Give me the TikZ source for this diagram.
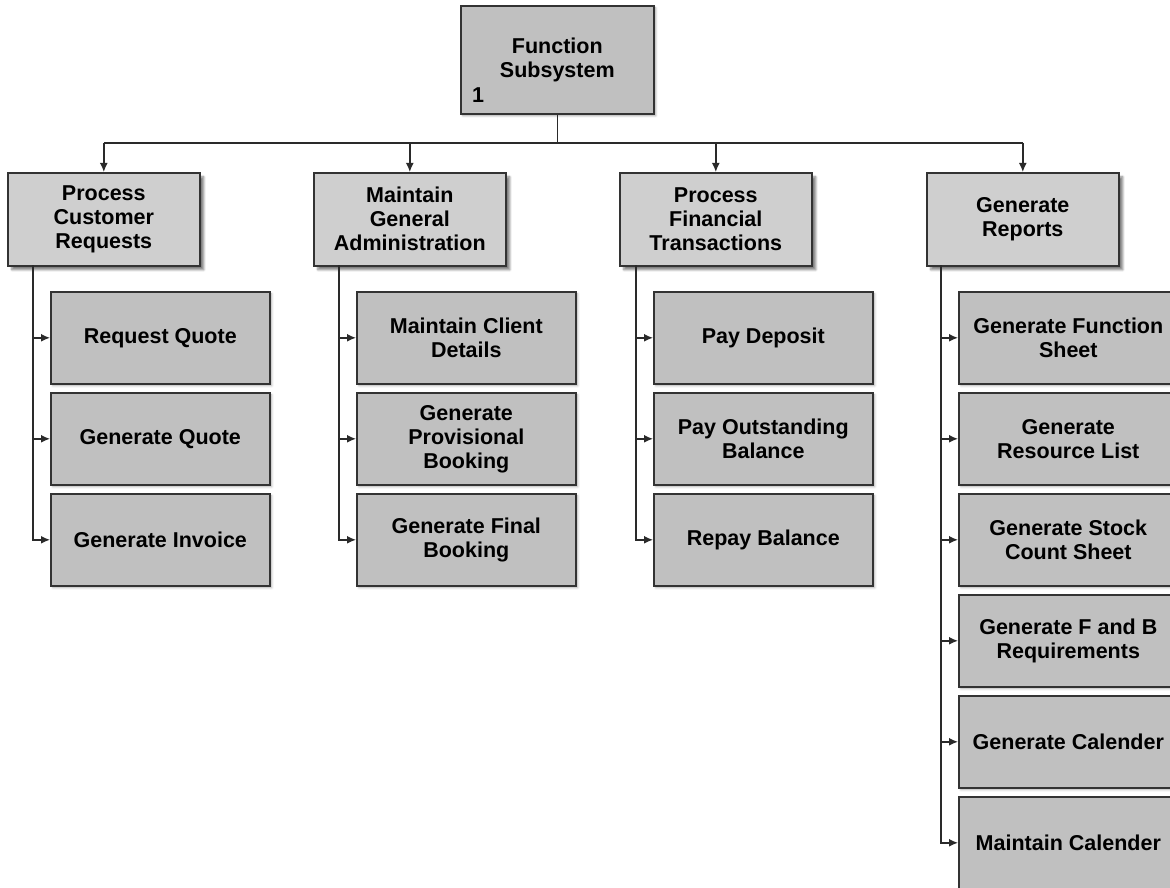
\documentclass[tikz,border=0pt]{standalone}
\usepackage{fontspec}
\setmainfont{Liberation Sans}
\usetikzlibrary{arrows.meta,shadows.blur}
\definecolor{boxfill}{HTML}{C0C0C0}
\definecolor{headfill}{HTML}{CFCFCF}
\definecolor{edge}{HTML}{333333}
\definecolor{wire}{HTML}{2A2A2A}
\tikzset{
  base/.style={draw=edge, line width=1.6pt, align=center, inner sep=0pt,
    anchor=north west, font=\bfseries\fontsize{21.5}{24}\selectfont},
  topbox/.style={base, fill=boxfill, minimum width=193pt, minimum height=108pt,
    blur shadow={shadow xshift=2pt, shadow yshift=-2pt, shadow blur steps=5, shadow opacity=35}},
  headbox/.style={base, fill=headfill, minimum width=192pt, minimum height=93pt,
    blur shadow={shadow xshift=4pt, shadow yshift=-4pt, shadow blur steps=6, shadow opacity=50}},
  leafbox/.style={base, fill=boxfill, minimum width=219pt, minimum height=92pt,
    blur shadow={shadow xshift=2pt, shadow yshift=-2pt, shadow blur steps=4, shadow opacity=30}},
  link/.style={draw=wire, line width=1.4pt},
  arr/.style={link, -{Latex[length=9pt,width=8pt]}},
}
\begin{document}
\begin{tikzpicture}[x=1pt,y=-1pt]
\useasboundingbox (0,0) rectangle (1170,888);

% root
\node[topbox] (root) at (460,5) {Function\\Subsystem};
\node[font=\bfseries\fontsize{21.5}{24}\selectfont, inner sep=0pt] (num) at (478,95) {1};

% second level
\node[headbox] (A) at (7,172)   {Process\\Customer\\Requests};
\node[headbox] (B) at (313,172) {Maintain\\General\\Administration};
\node[headbox] (C) at (619,172) {Process\\Financial\\Transactions};
\node[headbox] (D) at (926,172) {Generate\\Reports};

% leaves, column A
\node[leafbox] (A1) at (50,291) {Request Quote};
\node[leafbox] (A2) at (50,392) {Generate Quote};
\node[leafbox] (A3) at (50,493) {Generate Invoice};
% column B
\node[leafbox] (B1) at (356,291) {Maintain Client\\Details};
\node[leafbox] (B2) at (356,392) {Generate\\Provisional\\Booking};
\node[leafbox] (B3) at (356,493) {Generate Final\\Booking};
% column C
\node[leafbox] (C1) at (653,291) {Pay Deposit};
\node[leafbox] (C2) at (653,392) {Pay Outstanding\\Balance};
\node[leafbox] (C3) at (653,493) {Repay Balance};
% column D
\node[leafbox] (D1) at (958,291) {Generate Function\\Sheet};
\node[leafbox] (D2) at (958,392) {Generate\\Resource List};
\node[leafbox] (D3) at (958,493) {Generate Stock\\Count Sheet};
\node[leafbox] (D4) at (958,594) {Generate F and B\\Requirements};
\node[leafbox] (D5) at (958,695) {Generate Calender};
\node[leafbox] (D6) at (958,796) {Maintain Calender};

% root to second level
\coordinate (bus) at (556,143);
\draw[link] (root.south) -- (root.south |- bus);
\draw[link] (A.north |- bus) -- (D.north |- bus);
\foreach \n in {A,B,C,D}
  \draw[arr] (\n.north |- bus) -- (\n.north);

% second level to leaves
\coordinate (Ab) at (33,265);
\coordinate (Bb) at (339,265);
\coordinate (Cb) at (636,265);
\coordinate (Db) at (941,265);
\foreach \c/\k in {A/3,B/3,C/3,D/6}{
  \foreach \i in {1,...,\k}
    \draw[arr] (\c b) |- (\c\i.west);
}
\end{tikzpicture}
\end{document}
